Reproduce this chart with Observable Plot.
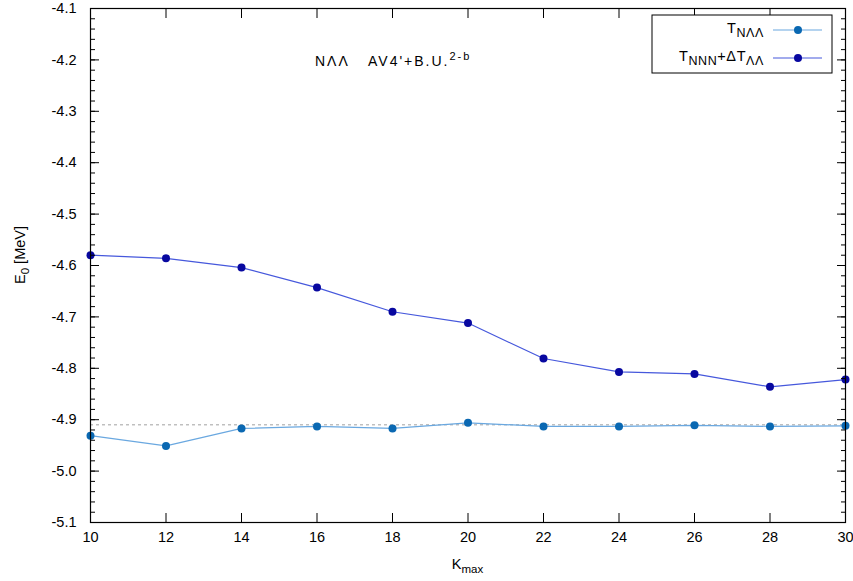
<!DOCTYPE html>
<html><head><meta charset="utf-8">
<script src="https://cdn.jsdelivr.net/npm/d3@7"></script>
<script src="https://cdn.jsdelivr.net/npm/@observablehq/plot@0.6"></script>
<style>body{margin:0;background:#fff}</style>
</head><body><div id="chart"></div>
<script>
const kmax = [10, 12, 14, 16, 18, 20, 22, 24, 26, 28, 30];
const tNLL = [-4.931, -4.951, -4.917, -4.913, -4.917, -4.906, -4.913, -4.913, -4.911, -4.913, -4.912];
const tNNN = [-4.580, -4.586, -4.604, -4.643, -4.690, -4.712, -4.781, -4.807, -4.811, -4.836, -4.822];
const refLevel = [-4.91];
const xTicks = [10, 12, 14, 16, 18, 20, 22, 24, 26, 28, 30];
const yTicks = [-5.1, -5.0, -4.9, -4.8, -4.7, -4.6, -4.5, -4.4, -4.3, -4.2, -4.1];
const yMinor = d3.range(0, 51).map(i => -5.1 + i * 0.02);

const lightDot = "#0a68b2", lightLine = "#6aa8e0";
const darkDot = "#0808a0", darkLine = "#4658dc";
const FONT = "'Liberation Sans', Arial, sans-serif";

const rowsA = kmax.map((k, i) => ({k, e: tNLL[i]}));
const rowsB = kmax.map((k, i) => ({k, e: tNNN[i]}));

function rich(text, parts, subSize) {
  let shift = 0;
  for (const [s, kind] of parts) {
    const target = kind === "sub" ? 4 : kind === "sup" ? -6 : 0;
    const t = text.append("tspan").text(s).attr("dy", target - shift);
    if (kind) t.attr("font-size", subSize);
    shift = target;
  }
}

function annotations(index, scales, values, dims) {
  const g = d3.create("svg:g").attr("font-family", FONT).attr("fill", "black");
  // annotation
  g.append("text").attr("x", 315).attr("y", 66).attr("text-anchor", "start")
    .attr("font-size", 14).attr("letter-spacing", 2).text("NΛΛ");
  const t = g.append("text").attr("x", 368).attr("y", 66).attr("text-anchor", "start")
    .attr("font-size", 14).attr("letter-spacing", 2);
  rich(t, [["AV4'+B.U.", null], ["2-b", "sup"]], 11);
  // legend
  const bx = 652, by = 15, bw = 180, bh = 58;
  g.append("rect").attr("x", bx).attr("y", by).attr("width", bw).attr("height", bh)
    .attr("fill", "white").attr("stroke", "black").attr("stroke-width", 1);
  const entries = [
    {cy: 30, line: lightLine, dot: lightDot, parts: [["T", null], ["NΛΛ", "sub"]]},
    {cy: 58, line: darkLine, dot: darkDot, parts: [["T", null], ["NNN", "sub"], ["+ΔT", null], ["ΛΛ", "sub"]]}
  ];
  for (const e of entries) {
    const tt = g.append("text").attr("x", 764).attr("y", e.cy + 3).attr("text-anchor", "end")
      .attr("font-size", 14.5).attr("letter-spacing", 0.6);
    rich(tt, e.parts, 12.5);
    g.append("line").attr("x1", 773).attr("x2", 822).attr("y1", e.cy).attr("y2", e.cy)
      .attr("stroke", e.line).attr("stroke-width", 1.2);
    g.append("circle").attr("cx", 798).attr("cy", e.cy).attr("r", 4).attr("fill", e.dot);
  }
  // axis labels
  const yl = g.append("text").attr("transform", "translate(25,255) rotate(-90)")
    .attr("text-anchor", "middle").attr("font-size", 14.5);
  rich(yl, [["E", null], ["0", "sub"], [" [MeV]", null]], 11.5);
  const xl = g.append("text").attr("x", (dims.marginLeft + dims.width - dims.marginRight) / 2)
    .attr("y", 569).attr("text-anchor", "middle").attr("font-size", 14.5);
  rich(xl, [["K", null], ["max", "sub"]], 11.5);
  return g.node();
}

const empty = () => "";
const chart = Plot.plot({
  width: 853,
  height: 581,
  marginLeft: 90,
  marginRight: 8,
  marginTop: 8,
  marginBottom: 59,
  style: {fontFamily: FONT, color: "black", background: "white"},
  x: {domain: [10, 30]},
  y: {domain: [-5.1, -4.1]},
  marks: [
    Plot.ruleY(refLevel, {stroke: "#a0a0a0", strokeDasharray: "3,3", strokeWidth: 1}),
    Plot.line(rowsA, {x: "k", y: "e", stroke: lightLine, strokeWidth: 1.2}),
    Plot.dot(rowsA, {x: "k", y: "e", r: 4, fill: lightDot}),
    Plot.line(rowsB, {x: "k", y: "e", stroke: darkLine, strokeWidth: 1.2}),
    Plot.dot(rowsB, {x: "k", y: "e", r: 4, fill: darkDot}),
    Plot.axisY(yMinor, {anchor: "left", tickSize: -5, tickFormat: empty, label: null}),
    Plot.axisY(yMinor, {anchor: "right", tickSize: -5, tickFormat: empty, label: null}),
    Plot.axisY(yTicks, {anchor: "left", tickSize: -9, tickFormat: empty, label: null}),
    Plot.axisY(yTicks, {anchor: "right", tickSize: -9, tickFormat: empty, label: null}),
    Plot.axisX(xTicks, {anchor: "bottom", tickSize: -9, tickFormat: empty, label: null}),
    Plot.axisX(xTicks, {anchor: "top", tickSize: -9, tickFormat: empty, label: null}),
    Plot.axisY(yTicks, {anchor: "left", tickSize: 0, tickPadding: 14, fontSize: 14.5, tickFormat: d => d.toFixed(1), label: null}),
    Plot.axisX(xTicks, {anchor: "bottom", tickSize: 0, tickPadding: 9, fontSize: 14.5, tickFormat: d => String(d), label: null}),
    Plot.frame({stroke: "black", strokeWidth: 1.2}),
    annotations
  ]
});
document.getElementById("chart").appendChild(chart);
</script>
</body></html>
